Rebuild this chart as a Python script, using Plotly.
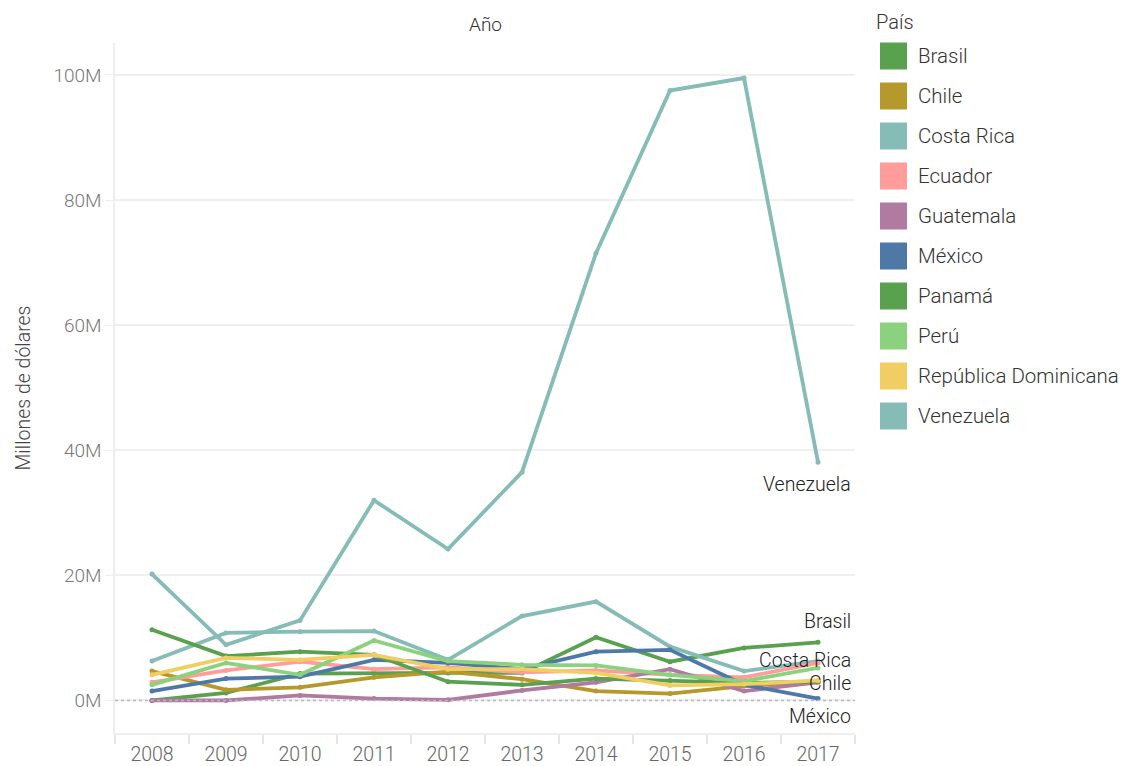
import plotly.graph_objects as go

years = [2008, 2009, 2010, 2011, 2012, 2013, 2014, 2015, 2016, 2017]

countries = ["Brasil", "Chile", "Costa Rica", "Ecuador", "Guatemala",
             "México", "Panamá", "Perú", "República Dominicana", "Venezuela"]

brasil = [0.0, 1.2, 4.3, 4.4, 4.4, 4.4, 10.1, 6.2, 8.4, 9.3]
chile = [4.7, 1.7, 2.1, 3.7, 4.6, 3.4, 1.5, 1.1, 2.3, 3.1]
costa_rica = [6.3, 10.8, 11.0, 11.1, 6.5, 13.5, 15.8, 8.6, 4.7, 6.3]
ecuador = [2.9, 4.8, 6.2, 5.0, 5.3, 4.5, 4.8, 4.1, 3.7, 6.0]
guatemala = [0.0, 0.0, 0.8, 0.3, 0.1, 1.6, 2.9, 5.0, 1.5, 2.9]
mexico = [1.5, 3.5, 3.8, 6.5, 6.0, 5.0, 7.8, 8.1, 2.5, 0.3]
panama = [11.3, 7.1, 7.8, 7.3, 3.0, 2.5, 3.5, 3.2, 2.8, 3.0]
peru = [2.5, 6.0, 4.1, 9.6, 6.3, 5.7, 5.6, 4.1, 3.1, 5.2]
rep_dom = [4.1, 6.8, 6.5, 7.3, 5.0, 5.0, 4.4, 2.4, 2.6, 3.2]
venezuela = [20.2, 8.9, 12.8, 32.0, 24.2, 36.5, 71.5, 97.5, 99.5, 38.1]

series = [brasil, chile, costa_rica, ecuador, guatemala,
          mexico, panama, peru, rep_dom, venezuela]

colors = ["#59A14F", "#B6992D", "#86BCB6", "#FF9D9A", "#B07AA1",
          "#4E79A7", "#59A14F", "#8CD17D", "#F1CE63", "#86BCB6"]

y_ticks = [0, 20, 40, 60, 80, 100]
y_ticktext = [f"{v}M" for v in y_ticks]

# end labels: country -> (yshift px)
end_labels = {"Venezuela": -22, "Brasil": 21, "Costa Rica": 1, "Chile": -2, "México": -18}

FONT = "Roboto"
W, H = 1127, 766
ML, MR, MT, MB = 115, 272, 43, 33
PW, PH = W - ML - MR, H - MT - MB


def px_x(p):
    return (p - ML) / PW


def px_y(p):
    return (H - MB - p) / PH


fig = go.Figure()
for name, vals, col in zip(countries, series, colors):
    fig.add_trace(go.Scatter(
        x=years, y=vals, name=name, mode="lines+markers",
        line=dict(color=col, width=3.8),
        marker=dict(color=col, size=5),
        showlegend=False,
        hovertemplate=name + "<br>%{x}: %{y}M<extra></extra>",
    ))

annotations = []
for name, vals in zip(countries, series):
    if name in end_labels:
        annotations.append(dict(
            x=years[-1], y=vals[-1], xref="x", yref="y", text=name,
            showarrow=False, xanchor="right", yanchor="middle",
            xshift=35, yshift=end_labels[name],
            font=dict(family=FONT, size=19.5, color="#222", weight=300),
        ))

# axis title at top
annotations.append(dict(
    x=0.5, y=px_y(24), xref="paper", yref="paper", text="Año",
    showarrow=False, xanchor="center", yanchor="middle",
    font=dict(family=FONT, size=19, color="#333", weight=300),
))

# custom legend
annotations.append(dict(
    x=px_x(874), y=px_y(22), xref="paper", yref="paper", text="País",
    showarrow=False, xanchor="left", yanchor="middle",
    font=dict(family=FONT, size=20, color="#333", weight=300),
))
shapes = []
for i, (name, col) in enumerate(zip(countries, colors)):
    cy = 56 + 40 * i
    shapes.append(dict(
        type="rect", xref="paper", yref="paper",
        x0=px_x(880), x1=px_x(907), y0=px_y(cy + 13.5), y1=px_y(cy - 13.5),
        fillcolor=col, line=dict(width=0),
    ))
    annotations.append(dict(
        x=px_x(916), y=px_y(cy), xref="paper", yref="paper", text=name,
        showarrow=False, xanchor="left", yanchor="middle",
        font=dict(family=FONT, size=20.5, color="#333", weight=300),
    ))

# dotted zero line
shapes.append(dict(
    type="line", xref="paper", yref="y", x0=0, x1=1, y0=0, y1=0,
    line=dict(color="#b8b8c0", width=1.5, dash="dot"),
))

fig.update_layout(
    width=W, height=H,
    margin=dict(l=ML, r=MR, t=MT, b=MB, autoexpand=False),
    paper_bgcolor="white", plot_bgcolor="white",
    font=dict(family=FONT, weight=300),
    annotations=annotations,
    shapes=shapes,
    showlegend=False,
)

fig.update_xaxes(
    automargin=False,
    range=[2007.5, 2017.5],
    tickvals=years, ticktext=[str(y) for y in years],
    ticks="outside", ticklen=3, tickcolor="rgba(0,0,0,0)",
    minor=dict(ticks="outside", tick0=2007.5, dtick=1, ticklen=9,
               tickcolor="#e6e6e6", tickwidth=1.5, showgrid=False),
    showgrid=False, zeroline=False,
    showline=True, linecolor="#eeeeee", linewidth=1.5,
    tickfont=dict(family=FONT, size=19.5, color="#666", weight=300),
)

fig.update_yaxes(
    automargin=False,
    range=[-5.2, 105.1],
    tickvals=y_ticks, ticktext=y_ticktext,
    ticks="outside", ticklen=8, tickcolor="#eeeeee",
    showgrid=True, gridcolor="#f0f0f0", gridwidth=1.5,
    zeroline=False,
    showline=True, linecolor="#eeeeee", linewidth=1.5,
    tickfont=dict(family=FONT, size=19, color="#777", weight=300),
    title=dict(text="Millones de dólares", standoff=18,
               font=dict(family=FONT, size=19.5, color="#444", weight=300)),
)

fig.write_html("out.html", config={"displayModeBar": False},
               post_script="document.body.style.margin='0';")
